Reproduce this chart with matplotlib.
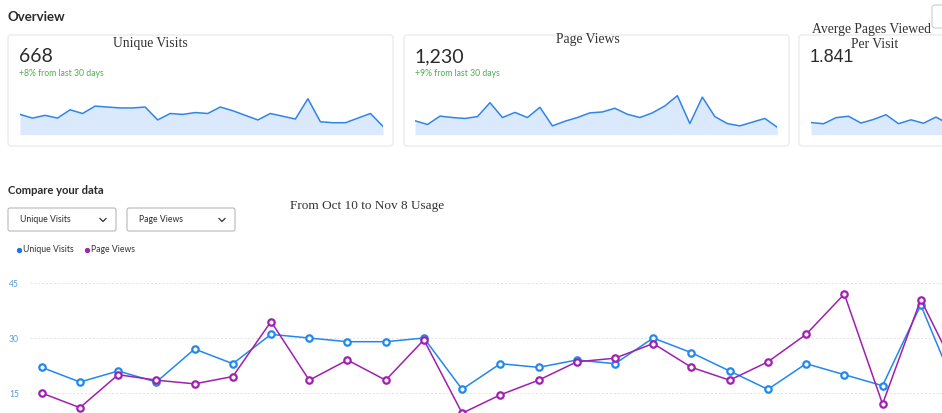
import matplotlib.pyplot as plt
from matplotlib.patches import FancyBboxPatch
from matplotlib.lines import Line2D

# daily data, Oct 10 - Nov 8
unique_visits = [22, 18, 21, 18, 27, 23, 31, 30, 29, 29, 30, 16, 23, 22, 24,
                 23, 30, 26, 21, 16, 23, 20, 17, 39, 14, 13, 13, 18, 23, 9]
page_views = [30, 22, 40, 37, 35, 39, 69, 37, 48, 37, 59, 19, 29, 37, 47,
              49, 57, 44, 37, 47, 62, 84, 24, 81, 39, 24, 19, 27, 35, 16]
avg_pages = [1.36, 1.22, 1.90, 2.06, 1.30, 1.70, 2.23, 1.23, 1.66, 1.28,
             1.97, 1.19, 1.26, 1.68, 1.96, 2.13, 1.90, 1.69, 1.76, 2.94,
             2.70, 4.20, 1.41, 2.08, 2.79, 1.85, 1.46, 1.50, 1.52, 1.78]
days = list(range(len(unique_visits)))
left_ticks = [15, 30, 45]

W, H = 942, 413
SANS = 'Lato'
SERIF = 'Liberation Serif'
TXT = '#2b2b2b'
GREEN = '#4caf50'
BLUE = '#2188ee'
PURPLE = '#a01fb0'
SPARK = '#2f84ea'
SPARK_FILL = '#dae9fb'

fig = plt.figure(figsize=(W / 100, H / 100), dpi=100)
fig.patch.set_facecolor('white')


def px_axes(x0, y0, x1, y1):
    # axes from pixel box (y measured from top)
    ax = fig.add_axes([x0 / W, 1 - y1 / H, (x1 - x0) / W, (y1 - y0) / H])
    ax.set_facecolor('none')
    return ax


bg = fig.add_axes([0, 0, 1, 1])
bg.set_xlim(0, W)
bg.set_ylim(H, 0)
bg.axis('off')

# cards
for x0, x1 in [(8, 393), (404, 789), (799, 990)]:
    bg.add_patch(FancyBboxPatch((x0, 35), x1 - x0, 111,
                                boxstyle='round,pad=0,rounding_size=3',
                                fc='white', ec='#ececec', lw=1))
bg.add_patch(FancyBboxPatch((932, 5), 20, 23, boxstyle='round,pad=0,rounding_size=3',
                            fc='white', ec='#d6d6d6', lw=1))

bg.text(8, 17, 'Overview', fontsize=9.5, fontweight='bold', family=SANS,
        color=TXT, va='center')

bg.text(150, 43, 'Unique Visits', fontsize=9.8, family=SERIF, color='#333333',
        ha='center', va='center')
bg.text(19, 57, '668', fontsize=14, family=SANS, color=TXT, va='center')
bg.text(19, 74, '+8% from last 30 days', fontsize=6.2, family=SANS, color=GREEN,
        va='center')

bg.text(588, 40, 'Page Views', fontsize=9.8, family=SERIF, color='#333333',
        ha='center', va='center')
bg.text(414, 57, '1,230', fontsize=14, family=SANS, color=TXT, va='center')
bg.text(415, 74, '+9% from last 30 days', fontsize=6.2, family=SANS, color=GREEN,
        va='center')

bg.text(810, 57.5, '1.841', fontsize=12.8, family='Liberation Sans', color=TXT,
        va='center')
bg.text(872, 30, 'Averge Pages Viewed', fontsize=9.8, family=SERIF,
        color='#333333', ha='center', va='center')
bg.text(875, 44.5, 'Per Visit', fontsize=9.8, family=SERIF, color='#333333',
        ha='center', va='center')

bg.text(8, 191, 'Compare your data', fontsize=8.1, fontweight='bold',
        family=SANS, color=TXT, va='center')

# dropdowns
for x0, label in [(8, 'Unique Visits'), (127, 'Page Views')]:
    bg.add_patch(FancyBboxPatch((x0, 208), 108, 23, boxstyle='round,pad=0,rounding_size=2',
                                fc='white', ec='#b8b8b8', lw=0.8))
    bg.text(x0 + 12, 220, label, fontsize=6.2, family=SANS, color=TXT, va='center')
    cx = x0 + 95
    bg.add_line(Line2D([cx - 3, cx, cx + 3], [218.5, 221.5, 218.5],
                       color='#333333', lw=0.9))

bg.text(367.5, 206, 'From Oct 10 to Nov 8 Usage', fontsize=9.5, family=SERIF,
        color='#333333', ha='center', va='center')

# legend
bg.plot([19], [249.5], 'o', ms=2.8, color='#1a73e8')
bg.text(23, 249.5, 'Unique Visits', fontsize=6.2, family=SANS, color='#333333',
        va='center')
bg.plot([87], [249.5], 'o', ms=2.8, color='#9c27b0')
bg.text(91, 249.5, 'Page Views', fontsize=6.2, family=SANS, color='#333333',
        va='center')

# sparklines
spark_specs = [
    (20, 383, unique_visits, 45),
    (415, 777.3, page_views, 89.4),
    (811, 1173.5, avg_pages, 4.63),
]
for x0, x1, vals, top in spark_specs:
    ax = px_axes(x0, 93.2, x1, 134.7)
    ax.fill_between(days, vals, 0, color=SPARK_FILL, lw=0)
    ax.plot(days, vals, color=SPARK, lw=1.1)
    ax.set_xlim(0, len(days) - 1)
    ax.set_ylim(0, top)
    ax.axis('off')

# compare chart (extends past the bottom and right edge of the screenshot)
step = 38.22
x_first = 41.7
ax = px_axes(30, 264.7, W, 448)
ax.set_xlim(-(x_first - 30) / step, (W - x_first) / step)
ax.set_ylim(0, 50)
ax.plot(days, unique_visits, color=BLUE, lw=1.1, marker='o', ms=4.6,
        mfc='white', mec=BLUE, mew=1.6, zorder=3)
ax.set_yticks(left_ticks)
ax.set_yticklabels([str(t) for t in left_ticks], fontsize=6.2, family=SANS,
                   color='#5b9bd5')
ax.tick_params(axis='y', length=0, pad=8)
ax.set_xticks([])
ax.grid(axis='y', color='#e3e3e3', ls=(0, (2, 2)), lw=0.7)
for s in ax.spines.values():
    s.set_visible(False)

ax2 = ax.twinx()
ax2.set_ylim(0, 100)
ax2.plot(days, page_views, color=PURPLE, lw=1.1, marker='o', ms=4.6,
         mfc='white', mec=PURPLE, mew=1.6, zorder=3)
ax2.set_yticks([])
for s in ax2.spines.values():
    s.set_visible(False)

fig.savefig('out.png', dpi=100)
